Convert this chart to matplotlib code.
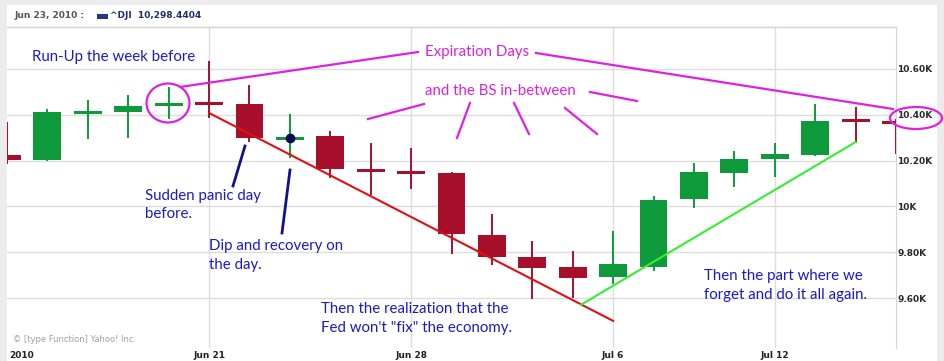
import matplotlib
matplotlib.use("Agg")
import matplotlib.pyplot as plt
from matplotlib.patches import Ellipse, Rectangle

# Dow Jones daily candles, Jun 14 - Jul 15 2010
dias = ["Jun 14", "Jun 15", "Jun 16", "Jun 17", "Jun 18", "Jun 21", "Jun 22", "Jun 23",
        "Jun 24", "Jun 25", "Jun 28", "Jun 29", "Jun 30", "Jul 1", "Jul 2", "Jul 6",
        "Jul 7", "Jul 8", "Jul 9", "Jul 12", "Jul 13", "Jul 14", "Jul 15"]
abertura = [10225, 10203, 10406, 10412, 10443, 10455, 10447, 10292, 10307, 10160, 10155, 10146,
            9875, 9779, 9735, 9692, 9735, 10032, 10146, 10207, 10224, 10378, 10373]
maxima = [10364, 10421, 10460, 10482, 10517, 10630, 10526, 10399, 10325, 10272, 10251, 10146,
          9962, 9845, 9801, 9888, 10041, 10185, 10238, 10272, 10443, 10430, 10378]
minima = [10190, 10203, 10299, 10303, 10386, 10390, 10286, 10216, 10128, 10054, 10080, 9797,
          9749, 9600, 9604, 9666, 9722, 9997, 10089, 10133, 10224, 10281, 10233]
fechamento = [10203, 10412, 10411, 10438, 10450, 10447, 10299, 10298, 10163, 10151, 10140, 9880,
              9779, 9731, 9687, 9749, 10028, 10150, 10207, 10229, 10373, 10369, 10364]

yticks = [9600, 9800, 10000, 10200, 10400, 10600]
ylabels = ["9.60K", "9.80K", "10K", "10.20K", "10.40K", "10.60K"]
xtick_dias = ["Jun 21", "Jun 28", "Jul 6", "Jul 12"]

VERDE = "#0e9a3a"
VERMELHO = "#a80f2a"
AZUL = "#1a1acc"
MAGENTA = "#e020e0"
W, H = 944, 361

fig = plt.figure(figsize=(W / 100, H / 100), dpi=100, facecolor="#ececec")

def px(x, y):
    return x / W, 1 - y / H

# fundo branco do widget
fig.patches.append(Rectangle(px(7, 361), 930 / W, 356 / H, transform=fig.transFigure,
                             facecolor="white", edgecolor="none", zorder=-10))

esq, dir_, topo, base = 7, 896, 27, 348
ax = fig.add_axes([esq / W, 1 - base / H, (dir_ - esq) / W, (base - topo) / H])
ax.set_facecolor("white")
ax.set_xlim(0, 22)
ax.set_ylim(9600 - (base - 298) / 0.229, 10600 + (69 - topo) / 0.229)

for s in ["left", "bottom"]:
    ax.spines[s].set_visible(False)
for s in ["top", "right"]:
    ax.spines[s].set_color("#d4d4d4")

ax.set_yticks(yticks)
ax.set_yticklabels(ylabels)
ax.yaxis.tick_right()
ax.tick_params(axis="y", length=0, pad=1, labelsize=6.5, labelcolor="#2a2a2a")
for t in ax.get_yticklabels():
    t.set_fontweight("bold")
ax.set_xticks([dias.index(d) for d in xtick_dias])
ax.set_xticklabels([])
ax.tick_params(axis="x", length=0)
ax.grid(True, color="#dddddd", linewidth=1)
ax.set_axisbelow(True)

# candles
largura = 0.69
for i in range(len(dias)):
    o, h, l, c = abertura[i], maxima[i], minima[i], fechamento[i]
    cor = VERDE if c >= o else VERMELHO
    ax.plot([i, i], [l, h], color=cor, linewidth=1.4, zorder=3)
    corpo = abs(c - o)
    if corpo < 13:
        meio = (o + c) / 2
        ax.bar(i, 13, bottom=meio - 6.5, width=largura, color=cor, zorder=3)
    else:
        ax.bar(i, corpo, bottom=min(o, c), width=largura, color=cor, zorder=3)

# ponto do dia 23
j = dias.index("Jun 23")
ax.plot(j, fechamento[j], "o", color="#0a0a50", markersize=6, zorder=5)

# linhas de tendencia
ax.plot([5, 15], [10408, 9500], color="#e01010", linewidth=1.5, zorder=4, clip_on=False)
ax.plot([14.2, 21], [9570, 10281], color="#33ee33", linewidth=1.5, zorder=4)

# rabiscos magenta
magenta_linhas = [((180, 87), (418, 52)), ((536, 53), (893, 109)), ((368, 119), (424, 104)),
                  ((457, 138), (470, 103)), ((514, 103), (529, 134)), ((565, 108), (597, 134)),
                  ((590, 92), (637, 101))]
for a, b in magenta_linhas:
    p1, p2 = px(*a), px(*b)
    fig.add_artist(plt.Line2D([p1[0], p2[0]], [p1[1], p2[1]], transform=fig.transFigure,
                              color=MAGENTA, linewidth=1.6, zorder=6))
for (cx, cy), w, h in [((168, 103), 43, 39), ((916, 118), 52, 22)]:
    fig.add_artist(Ellipse(px(cx, cy), w / W, h / H, transform=fig.transFigure,
                           fill=False, edgecolor=MAGENTA, linewidth=1.6, zorder=6))

for a, b in [((245, 146), (233, 186)), ((290, 170), (282, 233))]:
    p1, p2 = px(*a), px(*b)
    fig.add_artist(plt.Line2D([p1[0], p2[0]], [p1[1], p2[1]], transform=fig.transFigure,
                              color="#101090", linewidth=2, zorder=6))

# textos
fonte = "Lato"
textos = [(32, 57, "Run-Up the week before", AZUL),
          (425, 52, "Expiration Days", MAGENTA),
          (425, 91, "and the BS in-between", MAGENTA),
          (145, 196, "Sudden panic day", AZUL), (145, 214, "before.", AZUL),
          (209, 246, "Dip and recovery on", AZUL), (209, 265, "the day.", AZUL),
          (321, 309, "Then the realization that the", AZUL),
          (321, 328, "Fed won't \"fix\" the economy.", AZUL),
          (704, 276, "Then the part where we", AZUL),
          (704, 295, "forget and do it all again.", AZUL)]
for x, y, s, cor in textos:
    fig.text(*px(x, y), s, color=cor, fontsize=10.8, family=fonte, va="center", ha="left",
             zorder=7)

# cabecalho
fig.add_artist(plt.Line2D([7 / W, 896 / W], [1 - 27 / H] * 2, transform=fig.transFigure,
                          color="#d4d4d4", linewidth=1))
fig.text(*px(14, 16), "Jun 23, 2010 :", fontsize=6.5, fontweight="bold", color="#555555",
         va="center")
fig.patches.append(Rectangle(px(97, 19), 11 / W, 5 / H, transform=fig.transFigure,
                             facecolor="#24358a", edgecolor="none"))
fig.text(*px(110, 16), "^DJI  10,298.4404", fontsize=6.5, fontweight="bold", color="#1c2e6e",
         va="center")

fig.text(*px(13, 339), "\u00a9 [type Function] Yahoo! Inc.", fontsize=6, color="#a0a0a0",
         va="center")

# rotulos do eixo x
fig.text(*px(9, 356), "2010", fontsize=6.5, fontweight="bold", color="#222222", va="center")
for d in xtick_dias:
    xp = esq + dias.index(d) / 22 * (dir_ - esq)
    fig.text(*px(xp, 356), d, fontsize=6.5, fontweight="bold", color="#222222",
             va="center", ha="center")

fig.savefig("out.png", dpi=100, facecolor=fig.get_facecolor())
